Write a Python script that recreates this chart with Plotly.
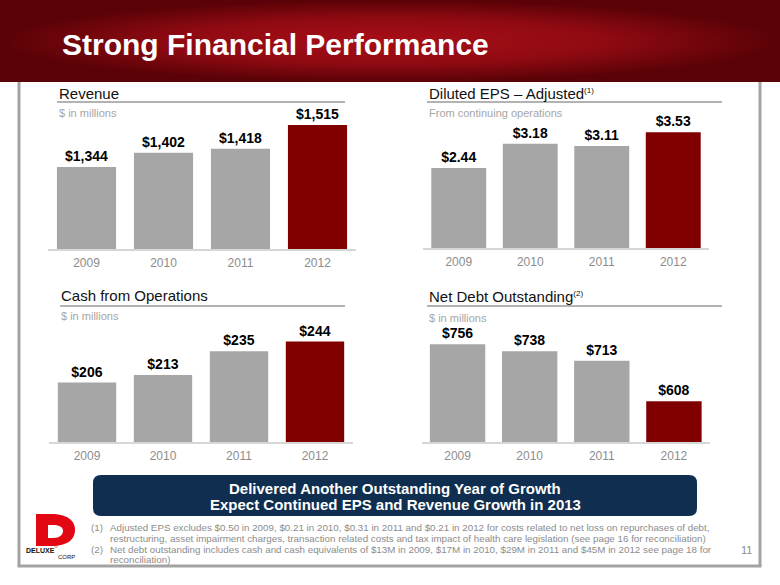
import plotly.graph_objects as go

W, H = 780, 585
FONT = "Arial, Liberation Sans, sans-serif"

# ---------------- data ----------------
years = ["2009", "2010", "2011", "2012"]
revenue = [1344, 1402, 1418, 1515]
eps_adjusted = [2.44, 3.18, 3.11, 3.53]
cash_from_ops = [206, 213, 235, 244]
net_debt = [756, 738, 713, 608]

revenue_text = [f"${v:,}" for v in revenue]
eps_text = [f"${v:.2f}" for v in eps_adjusted]
cash_text = [f"${v}" for v in cash_from_ops]
debt_text = [f"${v}" for v in net_debt]

GRAY = "#a6a6a6"
MAROON = "#800000"


def px(x):
    return x / W


def py(y):
    return 1 - y / H


# chart layout specs (pixel geometry of the slide)
charts = [
    dict(vals=revenue, text=revenue_text, x0=48, x1=356, base=249, top=96, v0=1010, ppu=0.2456),
    dict(vals=eps_adjusted, text=eps_text, x0=423, x1=709, base=248, top=96, v0=0, ppu=32.8),
    dict(vals=cash_from_ops, text=cash_text, x0=49, x1=353, base=442, top=300, v0=151, ppu=1.08),
    dict(vals=net_debt, text=debt_text, x0=421.5, x1=710, base=442, top=300, v0=502, ppu=0.385),
]

fig = go.Figure()
layout = dict(
    width=W, height=H, margin=dict(l=0, r=0, t=0, b=0),
    paper_bgcolor="white", plot_bgcolor="rgba(0,0,0,0)",
    showlegend=False, font=dict(family=FONT), bargap=0.232,
)

for i, c in enumerate(charts, start=1):
    n = len(c["vals"])
    colors = [GRAY] * (n - 1) + [MAROON]
    fig.add_trace(go.Bar(
        x=years, y=c["vals"], text=[f"<b>{t}</b>" for t in c["text"]],
        textposition="outside", textfont=dict(size=14, color="#000000", family=FONT),
        marker=dict(color=colors, line=dict(width=0)),
        xaxis=f"x{i}", yaxis=f"y{i}", hoverinfo="skip", constraintext="none",
    ))
    layout[f"xaxis{i}"] = dict(
        domain=[px(c["x0"]), px(c["x1"])], anchor=f"y{i}",
        showline=True, linecolor="#d6d6d6", linewidth=2, showgrid=False, zeroline=False,
        ticks="", ticklabelstandoff=2,
        tickfont=dict(size=12, color="#8c8c8c", family=FONT), fixedrange=True,
    )
    layout[f"yaxis{i}"] = dict(
        domain=[py(c["base"]), py(c["top"])], anchor=f"x{i}",
        range=[c["v0"], c["v0"] + (c["base"] - c["top"]) / c["ppu"]],
        visible=False, fixedrange=True,
    )

# overlay pixel axes for decoration
fig.add_trace(go.Scatter(
    x=[0, W, W, 0, 0], y=[0, 0, 82, 82, 0], fill="toself", mode="none",
    fillgradient=dict(type="radial", colorscale=[[0, "#a80e17"], [0.55, "#900a12"], [1, "#5a0207"]]),
    xaxis="x5", yaxis="y5", hoverinfo="skip",
))
layout["xaxis5"] = dict(domain=[0, 1], range=[0, W], visible=False, fixedrange=True, anchor="y5")
layout["yaxis5"] = dict(domain=[0, 1], range=[H, 0], visible=False, fixedrange=True, anchor="x5")

shapes = []


def line(x0, y0, x1, y1, color, width):
    shapes.append(dict(type="line", xref="x5", yref="y5", x0=x0, y0=y0, x1=x1, y1=y1,
                       line=dict(color=color, width=width)))


# slide frame
line(19, 82, 19, 566, "#a3a3a3", 3)
line(760, 82, 760, 566, "#a3a3a3", 3)
line(17.5, 566, 761.5, 566, "#a3a3a3", 3)

# title underlines
line(57, 102, 345, 102, "#9a9a9a", 1.5)
line(427, 102, 722, 102, "#9a9a9a", 1.5)
line(60, 306, 345, 306, "#9a9a9a", 1.5)
line(427, 306, 722, 306, "#9a9a9a", 1.5)

# footer box
shapes.append(dict(type="path", xref="x5", yref="y5",
                   path="M 101,475 L 689,475 Q 697,475 697,483 L 697,508 Q 697,516 689,516 "
                        "L 101,516 Q 93,516 93,508 L 93,483 Q 93,475 101,475 Z",
                   fillcolor="#0f2e50", line=dict(width=0)))

# logo "D"
shapes.append(dict(type="path", xref="x5", yref="y5",
                   path="M 36,514 L 51,514 C 68,514 75,521 75,530 C 75,539 68,546 51,546 L 36,546 Z",
                   fillcolor="#e30613", line=dict(width=0)))
shapes.append(dict(type="path", xref="x5", yref="y5",
                   path="M 48,525 L 53,525 C 60,525 63,527.5 63,531 C 63,534.5 60,538 53,538 L 48,538 Z",
                   fillcolor="white", line=dict(width=0)))

layout["shapes"] = shapes

ann = []


def text(x, y, s, size, color, anchor="left", bold=False):
    ann.append(dict(xref="paper", yref="paper", x=px(x), y=py(y), text=(f"<b>{s}</b>" if bold else s),
                    showarrow=False, xanchor=anchor, yanchor="middle",
                    font=dict(size=size, color=color, family=FONT)))


text(60, 45, "Strong Financial Performance", 30, "white", bold=True)

sup1 = "<sup><span style='font-size:8px'>(1)</span></sup>"
sup2 = "<sup><span style='font-size:8px'>(2)</span></sup>"
text(57, 93, "Revenue", 15, "#111111")
text(427, 93, "Diluted EPS – Adjusted" + sup1, 15, "#111111")
text(59, 295, "Cash from Operations", 15, "#111111")
text(427, 296, "Net Debt Outstanding" + sup2, 15, "#111111")

text(57, 113, "$ in millions", 11, "#a6a6a6")
text(427, 113, "From continuing operations", 11, "#a6a6a6")
text(59, 316, "$ in millions", 11, "#a6a6a6")
text(427, 318, "$ in millions", 11, "#a6a6a6")

text(395, 488, "Delivered Another Outstanding Year of Growth", 15, "white", anchor="center", bold=True)
text(395, 504, "Expect Continued EPS and Revenue Growth in 2013", 15, "white", anchor="center", bold=True)

FN = "#8c8c8c"
FS = 9.8
text(89, 527.5, "(1)", FS, FN)
text(108, 527.5, "Adjusted EPS excludes $0.50 in 2009, $0.21 in 2010, $0.31 in 2011 and $0.21 in 2012 for costs related to net loss on repurchases of debt,", FS, FN)
text(108, 538, "restructuring, asset impairment charges, transaction related costs and tax impact of health care legislation (see page 16 for reconciliation)", FS, FN)
text(89, 549, "(2)", FS, FN)
text(108, 549, "Net debt outstanding includes cash and cash equivalents of $13M in 2009, $17M in 2010, $29M in 2011 and $45M in 2012 see page 18 for", FS, FN)
text(108, 559.5, "reconciliation)", FS, FN)

text(746, 550, "11", 11, "#8c8c8c", anchor="center")

text(24, 550, "DELUXE", 7, "#111111", bold=True)
text(56, 557, "CORP", 6, "#111111")
text(52, 546, "®", 6, "#e30613")

layout["annotations"] = ann
fig.update_layout(**layout)
fig.write_html("out.html")
